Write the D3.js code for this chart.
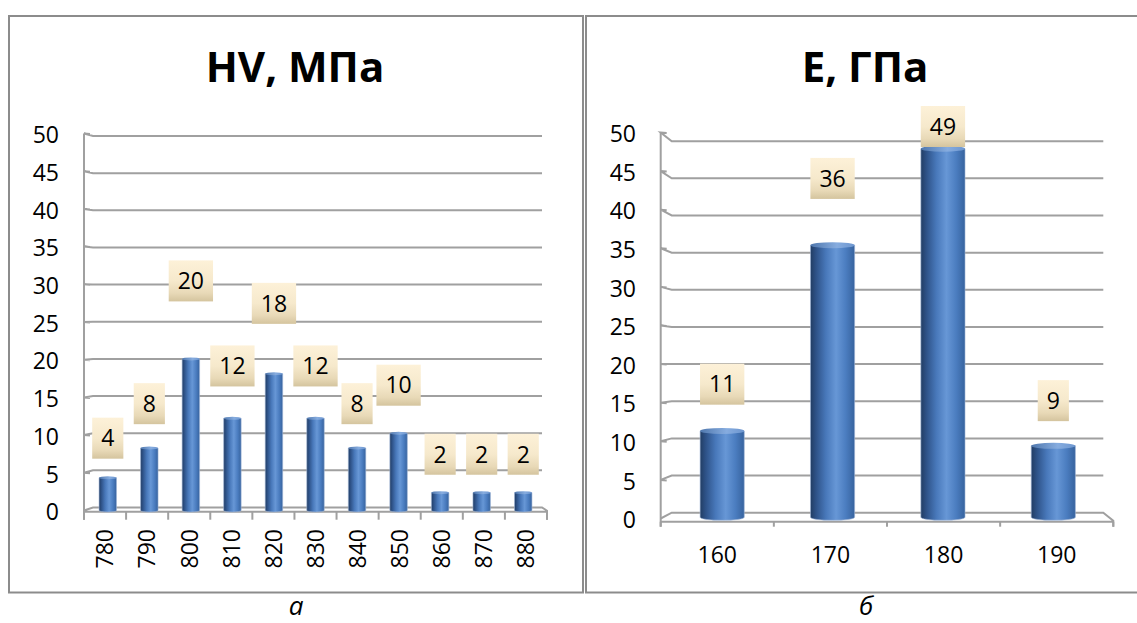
<!DOCTYPE html>
<html>
<head>
<meta charset="utf-8">
<script src="https://cdn.jsdelivr.net/npm/d3@7"></script>
<style>
  html, body { margin: 0; padding: 0; background: #fff; }
  svg { display: block; }
  text { font-family: "Open Sans", Lato, sans-serif; }
</style>
</head>
<body>
<svg id="chart" width="1137" height="623"></svg>
<script>
// Hardness distribution (HV, MPa)
const hvCategories = ["780", "790", "800", "810", "820", "830", "840", "850", "860", "870", "880"];
const hvValues = [4, 8, 20, 12, 18, 12, 8, 10, 2, 2, 2];

// Elastic modulus distribution (E, GPa)
const eCategories = ["160", "170", "180", "190"];
const eValues = [11, 36, 49, 9];

// Value axis
const yTickValues = [0, 5, 10, 15, 20, 25, 30, 35, 40, 45, 50];

const titles = ["HV, МПа", "E, ГПа"];
const captions = ["а", "б"];

const svg = d3.select("#chart");
const defs = svg.append("defs");

// cylinder shading
const barGrad = defs.append("linearGradient").attr("id", "barGrad")
  .attr("x1", "0").attr("x2", "1").attr("y1", "0").attr("y2", "0");
[["0%", "#223d63"], ["12%", "#2d5186"], ["35%", "#4878ba"], ["58%", "#6797d6"],
 ["80%", "#4b7dc0"], ["100%", "#37639e"]]
  .forEach(([o, c]) => barGrad.append("stop").attr("offset", o).attr("stop-color", c));

const topGrad = defs.append("linearGradient").attr("id", "topGrad")
  .attr("x1", "0").attr("x2", "1").attr("y1", "0").attr("y2", "0");
[["0%", "#4f77ad"], ["60%", "#86acdf"], ["100%", "#6d96cf"]]
  .forEach(([o, c]) => topGrad.append("stop").attr("offset", o).attr("stop-color", c));

// data label background
const boxGrad = defs.append("linearGradient").attr("id", "boxGrad")
  .attr("x1", "0").attr("x2", "0").attr("y1", "0").attr("y2", "1");
[["0%", "#fdf1d8"], ["50%", "#f6e9cc"], ["80%", "#e8d9b7"], ["100%", "#d4c49e"]]
  .forEach(([o, c]) => boxGrad.append("stop").attr("offset", o).attr("stop-color", c));

// panel frames
const frameColor = "#8c8c8c";
svg.append("rect").attr("x", 9).attr("y", 16).attr("width", 574).attr("height", 576.5)
  .attr("fill", "none").attr("stroke", frameColor).attr("stroke-width", 2);
svg.append("rect").attr("x", 586).attr("y", 16).attr("width", 580).attr("height", 576.5)
  .attr("fill", "none").attr("stroke", frameColor).attr("stroke-width", 2);

const gridColor = "#a0a0a0";
const numSize = 23;

function drawChart(cfg) {
  const g = svg.append("g");

  const xFront = d3.scaleBand().domain(cfg.categories).range([cfg.axisX, cfg.floorFrontEnd]);
  const xBar = d3.scaleBand().domain(cfg.categories).range(cfg.barRange);
  const yBack = d3.scaleLinear().domain([0, 50]).range(cfg.backRange);
  const yFront = d3.scaleLinear().domain([0, 50]).range(cfg.frontRange);

  // title
  g.append("text").attr("x", cfg.titleX).attr("y", 82)
    .attr("text-anchor", "middle").attr("font-size", 42).attr("font-weight", 700)
    .attr("font-family", "Lato, 'Open Sans', sans-serif")
    .attr("fill", "#000").text(cfg.title);

  // gridlines on the back wall with the side-wall stub to the front axis
  const gridStart = cfg.axisX + cfg.depthX;
  g.selectAll("path.grid").data(yTickValues.filter(v => v > 0)).join("path")
    .attr("class", "grid")
    .attr("d", v => `M${cfg.axisX + 6},${yFront(v) + 0.5} L${cfg.axisX},${yFront(v)} ` +
      `L${gridStart},${yBack(v)} L${cfg.gridEnd},${yBack(v)}`)
    .attr("fill", "none").attr("stroke", gridColor).attr("stroke-width", 2);

  // floor slab
  const y0b = yBack(0), y0f = yFront(0);
  g.append("path")
    .attr("d", `M${cfg.axisX},${y0f} L${gridStart},${y0b} L${cfg.gridEnd},${y0b} ` +
      `L${cfg.floorFrontEnd},${cfg.floorFrontY - 1} L${cfg.floorFrontEnd},${cfg.floorFrontY + cfg.tickLen} ` +
      `M${cfg.axisX},${cfg.floorFrontY} L${cfg.floorFrontEnd},${cfg.floorFrontY}`)
    .attr("fill", "none").attr("stroke", gridColor).attr("stroke-width", 2);

  // category ticks along the front edge of the floor
  const tickXs = cfg.categories.map(c => xFront(c)).concat([cfg.floorFrontEnd]);
  g.selectAll("line.xtick").data(tickXs).join("line")
    .attr("class", "xtick")
    .attr("x1", d => d).attr("x2", d => d)
    .attr("y1", cfg.floorFrontY).attr("y2", cfg.floorFrontY + cfg.tickLen)
    .attr("stroke", gridColor).attr("stroke-width", 2);

  // value axis
  g.append("line").attr("x1", cfg.axisX).attr("x2", cfg.axisX)
    .attr("y1", yFront(50)).attr("y2", cfg.floorFrontY + cfg.tickLen)
    .attr("stroke", gridColor).attr("stroke-width", 2);

  g.selectAll("text.ytick").data(yTickValues).join("text")
    .attr("class", "ytick")
    .attr("x", cfg.yLabelX).attr("y", v => yFront(v) + 1.5).attr("dy", "0.36em")
    .attr("text-anchor", "end").attr("font-size", numSize).attr("fill", "#000")
    .text(v => v);

  // category labels
  if (cfg.rotateLabels) {
    g.selectAll("text.xlab").data(cfg.categories).join("text")
      .attr("class", "xlab")
      .attr("transform", c => `translate(${xFront(c) + xFront.bandwidth() / 2},${cfg.xLabelY}) rotate(-90)`)
      .attr("dy", "0.36em").attr("text-anchor", "end")
      .attr("font-size", numSize).attr("fill", "#000").text(c => c);
  } else {
    g.selectAll("text.xlab").data(cfg.categories).join("text")
      .attr("class", "xlab")
      .attr("x", c => xFront(c) + xFront.bandwidth() / 2).attr("y", cfg.xLabelY)
      .attr("dy", "0.36em").attr("text-anchor", "middle")
      .attr("font-size", numSize).attr("fill", "#000").text(c => c);
  }

  // cylinders
  const data = cfg.categories.map((c, i) => ({ c, v: cfg.values[i] }));
  const w = xBar.bandwidth() * cfg.barFrac;
  const ry = cfg.capRy;
  const bars = g.selectAll("g.bar").data(data).join("g").attr("class", "bar");
  bars.append("path")
    .attr("d", d => {
      const x0 = xBar(d.c) + (xBar.bandwidth() - w) / 2;
      const yt = yBack(d.v), yb = cfg.barBottom;
      return `M${x0},${yt} L${x0},${yb} A${w / 2},${ry} 0 0 0 ${x0 + w},${yb} L${x0 + w},${yt} Z`;
    })
    .attr("fill", "url(#barGrad)").attr("stroke", "#9fb6d6").attr("stroke-width", 0.6);
  bars.append("ellipse")
    .attr("cx", d => xBar(d.c) + xBar.bandwidth() / 2)
    .attr("cy", d => yBack(d.v))
    .attr("rx", w / 2).attr("ry", ry)
    .attr("fill", "url(#topGrad)");

  // value labels
  const labels = g.selectAll("g.lab").data(data).join("g").attr("class", "lab");
  labels.each(function (d) {
    const lg = d3.select(this);
    const cx = xBar(d.c) + xBar.bandwidth() / 2;
    let cy = yBack(d.v) - cfg.labelLift(d.v);
    cy = Math.max(cy, cfg.labelTopLimit + 20.5);
    const t = lg.append("text").attr("x", cx).attr("y", cy).attr("dy", "0.36em")
      .attr("text-anchor", "middle").attr("font-size", numSize).attr("fill", "#000")
      .text(d.v);
    const tw = t.node().getComputedTextLength();
    lg.insert("rect", "text")
      .attr("x", cx - tw / 2 - 9).attr("y", cy - 20.5)
      .attr("width", tw + 18).attr("height", 41)
      .attr("fill", "url(#boxGrad)");
  });

  // panel caption
  svg.append("text").attr("x", cfg.titleX + 1).attr("y", 615)
    .attr("text-anchor", "middle").attr("font-size", 26).attr("font-style", "italic")
    .attr("font-family", "'Liberation Serif', 'DejaVu Serif', serif")
    .attr("fill", "#000").text(cfg.caption);
}

drawChart({
  title: titles[0], caption: captions[0], titleX: 295,
  categories: hvCategories, values: hvValues,
  axisX: 84, depthX: 9, gridEnd: 542, floorFrontEnd: 547, floorFrontY: 511.7, tickLen: 8,
  barRange: [87, 544], barFrac: 0.42, capRy: 1.5, barBottom: 510.5,
  backRange: [507.5, 136], frontRange: [510.5, 133.5],
  yLabelX: 59, xLabelY: 529, rotateLabels: true,
  labelLift: v => 38 + 0.1 * v * v, labelTopLimit: 0
});

drawChart({
  title: titles[1], caption: captions[1], titleX: 865,
  categories: eCategories, values: eValues,
  axisX: 660.7, depthX: 11, gridEnd: 1103.3, floorFrontEnd: 1113.3, floorFrontY: 521.7, tickLen: 5,
  barRange: [667, 1108.5], barFrac: 0.4, capRy: 3, barBottom: 517.3,
  backRange: [512.7, 141.2], frontRange: [518.5, 132.5],
  yLabelX: 636, xLabelY: 555, rotateLabels: false,
  labelLift: v => 38 + 0.8 * v, labelTopLimit: 106
});
</script>
</body>
</html>
